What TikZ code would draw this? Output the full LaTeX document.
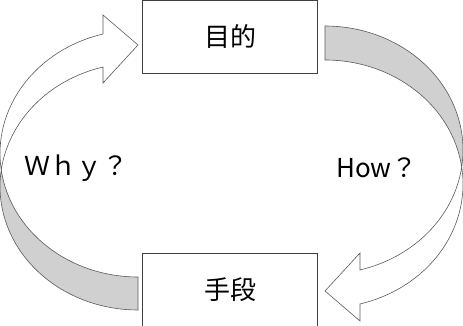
\documentclass[tikz,border=0pt]{standalone}
\usepackage{fontspec}
\setmainfont{Noto Sans CJK JP}
\usetikzlibrary{positioning}
\definecolor{bandgray}{HTML}{D0D0D0}
\definecolor{edgegray}{HTML}{5A5A5A}
\definecolor{boxline}{HTML}{404040}

\begin{document}
\begin{tikzpicture}[x=1pt, y=1pt, font=\fontsize{26}{30}\selectfont,
  box/.style={draw=boxline, line width=1pt, minimum width=175pt, minimum height=72.5pt, inner sep=0pt},
  backband/.style={fill=bandgray, draw=edgegray, line width=0.6pt},
  frontband/.style={fill=white, draw=edgegray, line width=0.6pt},
  leftarc/.style={x radius=138, y radius=123.5},
  rightarc/.style={x radius=138, y radius=124}]
  \useasboundingbox (0,0) rectangle (463,326);
  % the two boxes
  \node[box] (goal) at (230,289.2) {目的};
  \node[box, below=179.5pt of goal] (means) {手段};
  % Why: from means back up to goal
  \draw[backband] (138,16) arc[leftarc, start angle=270, end angle=172.32]
    arc[leftarc, start angle=187.68, end angle=270] -- cycle;
  \draw[frontband] (1.24,156) arc[leftarc, start angle=187.68, end angle=104.69]
    -- (103,311) -- (138,281) -- (103,243) -- (103,258.96)
    arc[leftarc, start angle=104.69, end angle=172.32] -- cycle;
  % How: from goal down to means
  \draw[backband] (325,300) arc[rightarc, start angle=90, end angle=-7.88]
    arc[rightarc, start angle=7.88, end angle=90] -- cycle;
  \draw[frontband] (461.7,159) arc[rightarc, start angle=7.88, end angle=-75.31]
    -- (360,5) -- (325,35) -- (360,73) -- (360,56.05)
    arc[rightarc, start angle=-75.31, end angle=-7.88] -- cycle;
  % labels
  \node (why) at (76,158) {Ｗｈｙ？};
  \node (how) at (377,158) {How？};
\end{tikzpicture}
\end{document}
